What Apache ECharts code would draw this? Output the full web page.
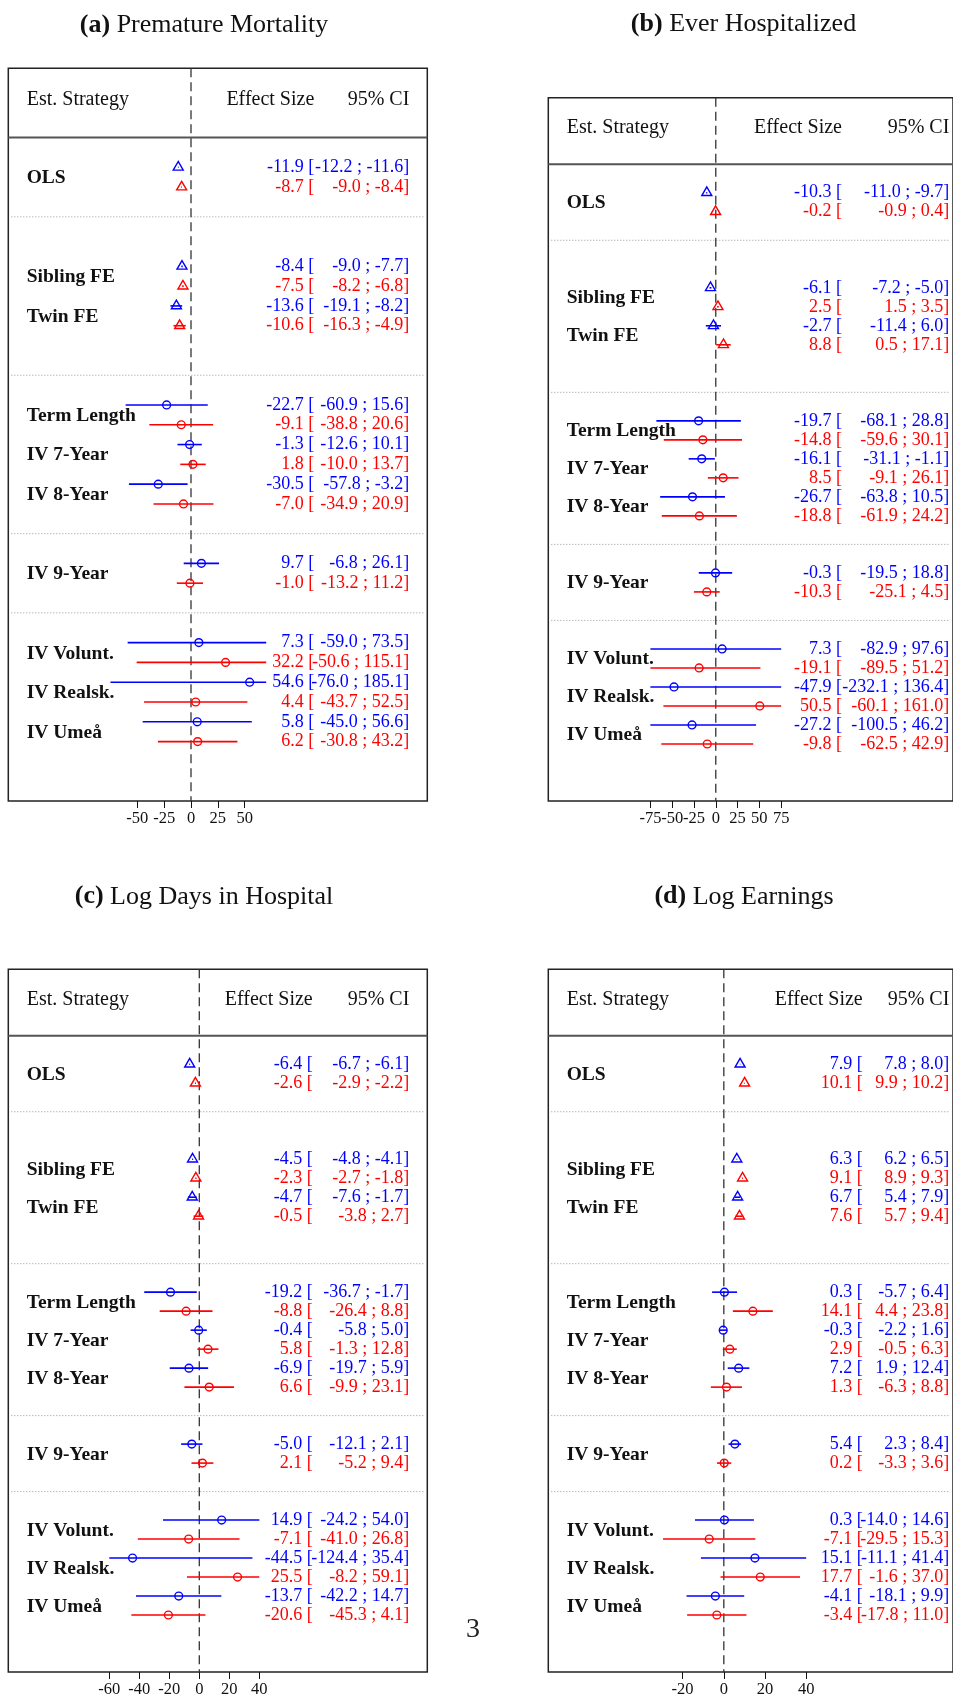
<!DOCTYPE html>
<html>
<head>
<meta charset="utf-8">
<script src="https://cdn.jsdelivr.net/npm/echarts@6/dist/echarts.min.js"></script>
<style>
  html, body { margin: 0; padding: 0; background: #fff; }
  #chart { width: 953px; height: 1698px; }
</style>
</head>
<body>
<div id="chart"></div>
<script>
// Estimation strategies, in the order they are listed in each panel
const strategies = ["OLS", "Sibling FE", "Twin FE", "Term Length", "IV 7-Year", "IV 8-Year",
                    "IV 9-Year", "IV Volunt.", "IV Realsk.", "IV Umeå"];
// Row of the blue estimate of each strategy; the red estimate sits on the next row
const strategyRows = [0, 5, 7, 12, 14, 16, 20, 24, 26, 28];
// Dotted separators between strategy groups
const groupBreaks = [2.5, 10.5, 18.5, 22.5];
// Strategies drawn with a triangle (the others use a circle)
const triangleStrategies = ["OLS", "Sibling FE", "Twin FE"];

// Each entry: [effect size, lower 95% CI, upper 95% CI]
const mortalityBlue = [[-11.9,-12.2,-11.6],[-8.4,-9.0,-7.7],[-13.6,-19.1,-8.2],[-22.7,-60.9,15.6],[-1.3,-12.6,10.1],
                       [-30.5,-57.8,-3.2],[9.7,-6.8,26.1],[7.3,-59.0,73.5],[54.6,-76.0,185.1],[5.8,-45.0,56.6]];
const mortalityRed  = [[-8.7,-9.0,-8.4],[-7.5,-8.2,-6.8],[-10.6,-16.3,-4.9],[-9.1,-38.8,20.6],[1.8,-10.0,13.7],
                       [-7.0,-34.9,20.9],[-1.0,-13.2,11.2],[32.2,-50.6,115.1],[4.4,-43.7,52.5],[6.2,-30.8,43.2]];
const mortalityTicks = [-50, -25, 0, 25, 50];

const hospitalBlue = [[-10.3,-11.0,-9.7],[-6.1,-7.2,-5.0],[-2.7,-11.4,6.0],[-19.7,-68.1,28.8],[-16.1,-31.1,-1.1],
                      [-26.7,-63.8,10.5],[-0.3,-19.5,18.8],[7.3,-82.9,97.6],[-47.9,-232.1,136.4],[-27.2,-100.5,46.2]];
const hospitalRed  = [[-0.2,-0.9,0.4],[2.5,1.5,3.5],[8.8,0.5,17.1],[-14.8,-59.6,30.1],[8.5,-9.1,26.1],
                      [-18.8,-61.9,24.2],[-10.3,-25.1,4.5],[-19.1,-89.5,51.2],[50.5,-60.1,161.0],[-9.8,-62.5,42.9]];
const hospitalTicks = [-75, -50, -25, 0, 25, 50, 75];

const daysBlue = [[-6.4,-6.7,-6.1],[-4.5,-4.8,-4.1],[-4.7,-7.6,-1.7],[-19.2,-36.7,-1.7],[-0.4,-5.8,5.0],
                  [-6.9,-19.7,5.9],[-5.0,-12.1,2.1],[14.9,-24.2,54.0],[-44.5,-124.4,35.4],[-13.7,-42.2,14.7]];
const daysRed  = [[-2.6,-2.9,-2.2],[-2.3,-2.7,-1.8],[-0.5,-3.8,2.7],[-8.8,-26.4,8.8],[5.8,-1.3,12.8],
                  [6.6,-9.9,23.1],[2.1,-5.2,9.4],[-7.1,-41.0,26.8],[25.5,-8.2,59.1],[-20.6,-45.3,4.1]];
const daysTicks = [-60, -40, -20, 0, 20, 40];

const earningsBlue = [[7.9,7.8,8.0],[6.3,6.2,6.5],[6.7,5.4,7.9],[0.3,-5.7,6.4],[-0.3,-2.2,1.6],
                      [7.2,1.9,12.4],[5.4,2.3,8.4],[0.3,-14.0,14.6],[15.1,-11.1,41.4],[-4.1,-18.1,9.9]];
const earningsRed  = [[10.1,9.9,10.2],[9.1,8.9,9.3],[7.6,5.7,9.4],[14.1,4.4,23.8],[2.9,-0.5,6.3],
                      [1.3,-6.3,8.8],[0.2,-3.3,3.6],[-7.1,-29.5,15.3],[17.7,-1.6,37.0],[-3.4,-17.8,11.0]];
const earningsTicks = [-20, 0, 20, 40];

const BLUE = '#0000ff';
const RED = '#ff0000';
const SERIF = '"Liberation Serif", "Times New Roman", serif';

// Panel layout: box position, x range of the box, clipping of CI whiskers, text columns
const panels = [
  { tag: '(a)', name: 'Premature Mortality', blue: mortalityBlue, red: mortalityRed, ticks: mortalityTicks,
    box: { left: 8.3, top: 68.3, width: 419, height: 732.7 }, range: [-170.1, 220.0], clip: [-75, 70],
    effectCol: 306, titleAt: [204, 25] },
  { tag: '(b)', name: 'Ever Hospitalized', blue: hospitalBlue, red: hospitalRed, ticks: hospitalTicks,
    box: { left: 548.3, top: 97.7, width: 419, height: 703.3 }, range: [-192.1, 272.1], clip: [-75, 75],
    effectCol: 293.7, titleAt: [743.5, 24] },
  { tag: '(c)', name: 'Log Days in Hospital', blue: daysBlue, red: daysRed, ticks: daysTicks,
    box: { left: 8.3, top: 969.3, width: 419, height: 704 }, range: [-127.33, 152.0], clip: [-60, 40],
    effectCol: 304.4, titleAt: [204, 896.7] },
  { tag: '(d)', name: 'Log Earnings', blue: earningsBlue, red: earningsRed, ticks: earningsTicks,
    box: { left: 548.3, top: 969.3, width: 419, height: 704 }, range: [-85.2, 111.25], clip: [-40, 40],
    effectCol: 314.4, titleAt: [744, 896.7] }
];

const ROW_TOP = -5, ROW_BOTTOM = 32, HEADER_ROW = -3.4, HEADER_RULE = -1.5;
const CI_COL = 401, LABEL_COL = 18.4;

const fmt = v => v.toFixed(1);

function textEl(x, y, text, opts) {
  return {
    type: 'text', x: x, y: y,
    style: Object.assign({
      text: text, fill: '#111', fontFamily: SERIF, fontSize: 18,
      align: 'left', verticalAlign: 'middle'
    }, opts || {})
  };
}

// Table text, header rule, group separators and the zero reference line
function tableRenderer(panel) {
  return function (params, api) {
    const cs = params.coordSys;
    const left = cs.x;
    const yOf = r => api.coord([0, r])[1];
    const i = params.dataIndex;
    const children = [];
    if (i === strategies.length) {
      const hy = yOf(HEADER_ROW);
      children.push(textEl(left + LABEL_COL, hy, 'Est. Strategy', { fontSize: 20 }));
      children.push(textEl(left + panel.effectCol, hy, 'Effect Size', { fontSize: 20, align: 'right' }));
      children.push(textEl(left + CI_COL, hy, '95% CI', { fontSize: 20, align: 'right' }));
      const ry = yOf(HEADER_RULE);
      children.push({ type: 'line', shape: { x1: left, y1: ry, x2: left + cs.width, y2: ry },
                      style: { stroke: '#555', lineWidth: 2 } });
      groupBreaks.forEach(b => {
        const by = yOf(b);
        children.push({ type: 'line', shape: { x1: left + 3, y1: by, x2: left + cs.width - 3, y2: by },
                        style: { stroke: '#999', lineWidth: 1, lineDash: [1, 2] } });
      });
      const z0 = api.coord([0, ROW_TOP]), z1 = api.coord([0, ROW_BOTTOM]);
      children.push({ type: 'line', shape: { x1: z0[0], y1: z0[1], x2: z1[0], y2: z1[1] },
                      style: { stroke: '#333', lineWidth: 1.3, lineDash: [9, 5] } });
      return { type: 'group', children: children };
    }
    const r = strategyRows[i];
    children.push(textEl(left + LABEL_COL, yOf(r + 0.55), strategies[i],
                         { fontSize: 19.5, fontWeight: 'bold' }));
    [[panel.blue[i], BLUE, r], [panel.red[i], RED, r + 1]].forEach(([v, color, row]) => {
      const y = yOf(row);
      children.push(textEl(left + panel.effectCol, y, fmt(v[0]) + ' [', { fill: color, align: 'right' }));
      children.push(textEl(left + CI_COL, y, fmt(v[1]) + ' ; ' + fmt(v[2]) + ']', { fill: color, align: 'right' }));
    });
    return { type: 'group', children: children };
  };
}

// Point estimates with their (clipped) confidence intervals
function markRenderer(panel) {
  return function (params, api) {
    const est = api.value(0), lo = api.value(1), hi = api.value(2), row = api.value(3);
    const color = api.value(4) === 0 ? BLUE : RED;
    const p = api.coord([est, row]);
    const a = api.coord([Math.max(lo, panel.clip[0]), row]);
    const b = api.coord([Math.min(hi, panel.clip[1]), row]);
    const children = [{
      type: 'line', shape: { x1: a[0], y1: a[1], x2: b[0], y2: b[1] },
      style: { stroke: color, lineWidth: 1.6 }
    }];
    if (api.value(5) === 1) {
      children.push({ type: 'polygon',
        shape: { points: [[p[0], p[1] - 5.8], [p[0] - 5, p[1] + 2.8], [p[0] + 5, p[1] + 2.8]] },
        style: { fill: 'none', stroke: color, lineWidth: 1.4 } });
    } else {
      children.push({ type: 'circle', shape: { cx: p[0], cy: p[1], r: 3.9 },
        style: { fill: 'none', stroke: color, lineWidth: 1.4 } });
    }
    return { type: 'group', children: children };
  };
}

const grid = [], xAxis = [], yAxis = [], series = [], graphic = [];

panels.forEach((panel, k) => {
  grid.push({
    left: panel.box.left, top: panel.box.top, width: panel.box.width, height: panel.box.height,
    show: true, borderColor: '#222', borderWidth: 1.5, backgroundColor: 'transparent'
  });
  xAxis.push({
    gridIndex: k, type: 'value', position: 'bottom', min: panel.range[0], max: panel.range[1],
    splitLine: { show: false }, axisLine: { show: false, onZero: false },
    axisTick: { show: true, customValues: panel.ticks, length: 7, inside: false,
                lineStyle: { color: '#111', width: 1 } },
    axisLabel: { show: true, customValues: panel.ticks, margin: 9, fontSize: 16.5,
                 showMinLabel: true, showMaxLabel: true, hideOverlap: false,
                 fontFamily: SERIF, color: '#111' }
  });
  yAxis.push({ gridIndex: k, type: 'value', inverse: true, min: ROW_TOP, max: ROW_BOTTOM, show: false });

  const tableData = strategyRows.map(r => [0, r]);
  tableData.push([0, HEADER_ROW]);
  series.push({
    type: 'custom', xAxisIndex: k, yAxisIndex: k, clip: false, silent: true, z: 1,
    encode: { x: 0, y: 1 }, data: tableData, renderItem: tableRenderer(panel)
  });

  const markData = [];
  strategies.forEach((s, i) => {
    const shape = triangleStrategies.includes(s) ? 1 : 0;
    const b = panel.blue[i], r = panel.red[i];
    markData.push([b[0], b[1], b[2], strategyRows[i], 0, shape]);
    markData.push([r[0], r[1], r[2], strategyRows[i] + 1, 1, shape]);
  });
  series.push({
    type: 'custom', xAxisIndex: k, yAxisIndex: k, clip: false, silent: true, z: 3,
    dimensions: ['est', 'lo', 'hi', 'row', 'color', 'shape'],
    encode: { x: 0, y: 3 }, data: markData, renderItem: markRenderer(panel)
  });

  graphic.push({
    type: 'text', x: panel.titleAt[0], y: panel.titleAt[1],
    style: {
      text: '{b|' + panel.tag + '} ' + panel.name,
      fontFamily: SERIF, fontSize: 26, fill: '#111', align: 'center', verticalAlign: 'middle',
      rich: { b: { fontFamily: SERIF, fontSize: 26, fontWeight: 'bold', fill: '#111' } }
    }
  });
});

// Page number
graphic.push({
  type: 'text', x: 473, y: 1630,
  style: { text: '3', fontFamily: SERIF, fontSize: 28, fill: '#222', align: 'center', verticalAlign: 'middle' }
});

const chart = echarts.init(document.getElementById('chart'), null, { renderer: 'canvas' });
chart.setOption({
  animation: false,
  backgroundColor: '#fff',
  grid: grid, xAxis: xAxis, yAxis: yAxis, series: series, graphic: graphic
});
</script>
</body>
</html>
